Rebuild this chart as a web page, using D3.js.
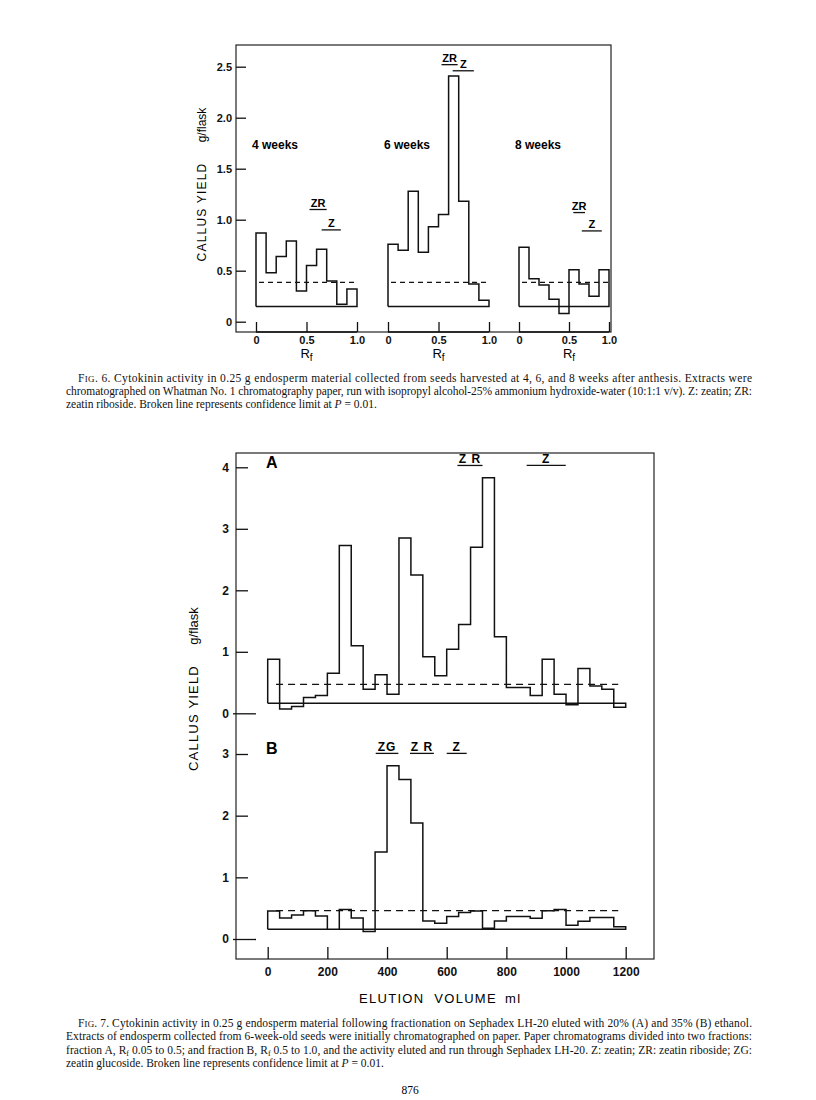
<!DOCTYPE html>
<html>
<head>
<meta charset="utf-8">
<script src="https://cdn.jsdelivr.net/npm/d3@7"></script>
<style>
  html, body { margin: 0; padding: 0; background: #fff; }
  svg { display: block; }
</style>
</head>
<body>
<svg id="chart"></svg>
<script>
// ---- Fig. 6 data (Rf histograms) ----
const weekLabels = ['4 weeks', '6 weeks', '8 weeks'];
const rfEdges = [0, 0.1, 0.2, 0.3, 0.4, 0.5, 0.6, 0.7, 0.8, 0.9, 1.0];
const rfEdges8 = [0, 0.1, 0.2, 0.3, 0.4, 0.5, 0.625, 0.75, 0.875, 1.0];
const yield4wk = [0.87, 0.48, 0.64, 0.79, 0.30, 0.55, 0.71, 0.40, 0.17, 0.32];
const yield6wk = [0.76, 0.70, 1.28, 0.68, 0.93, 1.05, 2.41, 1.18, 0.37, 0.21];
const yield8wk = [0.73, 0.42, 0.36, 0.22, 0.08, 0.51, 0.37, 0.25, 0.51];
const base6 = 0.15;
const limit6 = 0.385;
const rfTicks = [0, 0.5, 1.0];
const yTicks6 = [0, 0.5, 1.0, 1.5, 2.0, 2.5];
// marker labels: [panel, text, rf from, rf to, y value]
const markers6 = [
    [0, 'ZR', 0.53, 0.70, 1.10], [0, 'Z', 0.65, 0.84, 0.90],
    [1, 'ZR', 0.53, 0.69, 2.52], [1, 'Z', 0.64, 0.85, 2.46],
    [2, 'ZR', 0.554, 0.70, 1.07], [2, 'Z', 0.66, 0.91, 0.89]
];

// ---- Fig. 7 data (elution, 40 ml fractions) ----
const fractionWidth = 40;
const yieldA = [0.88, 0.07, 0.11, 0.255, 0.29, 0.65, 2.73, 1.10, 0.39, 0.625,
    0.31, 2.85, 2.25, 0.92, 0.61, 1.04, 1.445, 2.70, 3.83, 1.245,
    0.42, 0.42, 0.29, 0.88, 0.31, 0.14, 0.73, 0.445, 0.39, 0.10];
const yieldB = [0.455, 0.34, 0.39, 0.46, 0.374, 0.157, 0.48, 0.34, 0.12, 1.41,
    2.81, 2.585, 1.88, 0.29, 0.255, 0.363, 0.428, 0.455, 0.173, 0.29,
    0.363, 0.363, 0.336, 0.46, 0.48, 0.222, 0.287, 0.347, 0.347, 0.20];
const baseA = 0.163, baseB = 0.157;
const limitA = 0.47, limitB = 0.46;
const limitRange7 = [28, 1175];
const volumeTicks = [0, 200, 400, 600, 800, 1000, 1200];
const markersA = [['Z R', 636, 720, 4.03], ['Z', 868, 999, 4.03]];
const markersB = [['ZG', 362, 438, 3.01], ['Z R', 477, 557, 3.01], ['Z', 600, 667, 3.01]];

const caption6 = [
    { x: 78, justify: true, parts: [['F', ''], ['IG', 'sc'], ['. 6. Cytokinin activity in 0.25 g endosperm material collected from seeds harvested at 4, 6, and 8 weeks after anthesis. Extracts were', '']] },
    { x: 66, justify: true, parts: [['chromatographed on Whatman No. 1 chromatography paper, run with isopropyl alcohol-25% ammonium hydroxide-water (10:1:1 v/v). Z: zeatin; ZR:', '']] },
    { x: 66, justify: false, parts: [['zeatin riboside. Broken line represents confidence limit at ', ''], ['P', 'i'], [' = 0.01.', '']] }
];
const caption7 = [
    { x: 78, justify: true, parts: [['F', ''], ['IG', 'sc'], ['. 7. Cytokinin activity in 0.25 g endosperm material following fractionation on Sephadex LH-20 eluted with 20% (A) and 35% (B) ethanol.', '']] },
    { x: 66, justify: true, parts: [['Extracts of endosperm collected from 6-week-old seeds were initially chromatographed on paper. Paper chromatograms divided into two fractions:', '']] },
    { x: 66, justify: true, parts: [['fraction A, R', ''], ['f', 'sub'], [' 0.05 to 0.5; and fraction B, R', ''], ['f', 'sub'], [' 0.5 to 1.0, and the activity eluted and run through Sephadex LH-20. Z: zeatin; ZR: zeatin riboside; ZG:', '']] },
    { x: 66, justify: false, parts: [['zeatin glucoside. Broken line represents confidence limit at ', ''], ['P', 'i'], [' = 0.01.', '']] }
];

const W = 816, H = 1100;
const svg = d3.select('#chart').attr('width', W).attr('height', H);

const sans = '"Liberation Sans", Arial, sans-serif';
const serif = '"Liberation Serif", "Times New Roman", serif';

// step outline closed on a baseline
const histPath = (edges, values, base, x, y) => {
    const pts = [[edges[0], base]];
    values.forEach((v, i) => pts.push([edges[i], v]));
    pts.push([edges[edges.length - 1], values[values.length - 1]]);
    pts.push([edges[edges.length - 1], base]);
    pts.push([edges[0], base]);
    return d3.line().x(d => x(d[0])).y(d => y(d[1])).curve(d3.curveStepAfter)(pts);
};

const drawMarker = (g, text, x0, x1, yy, size, spacing) => {
    g.append('line')
        .attr('x1', x0).attr('x2', x1).attr('y1', yy).attr('y2', yy)
        .attr('stroke', '#111').attr('stroke-width', 1.3);
    g.append('text')
        .attr('x', (x0 + x1) / 2).attr('y', yy - 2.5)
        .attr('text-anchor', 'middle')
        .style('font-family', sans).style('font-size', size + 'px')
        .style('font-weight', 'bold').style('letter-spacing', spacing + 'px')
        .text(text);
};

const yLabel = (x, yCallus, yFlask, size) => {
    svg.append('text')
        .attr('transform', `translate(${x},${yCallus}) rotate(-90)`)
        .attr('text-anchor', 'middle')
        .style('font-family', sans).style('font-size', size + 'px')
        .style('letter-spacing', '1.2px')
        .text('CALLUS YIELD');
    svg.append('text')
        .attr('transform', `translate(${x},${yFlask}) rotate(-90)`)
        .attr('text-anchor', 'middle')
        .style('font-family', sans).style('font-size', size + 'px')
        .text('g/flask');
};

const styleAxis = (g, size) => {
    g.select('.domain').remove();
    g.selectAll('line').attr('stroke', '#111').attr('stroke-width', 1.3);
    g.selectAll('text')
        .style('font-family', sans).style('font-size', size + 'px')
        .style('font-weight', 'bold').attr('fill', '#111');
};

// ================= Fig. 6 =================
const f6 = { left: 236, top: 45, right: 611, bottom: 332 };
svg.append('rect')
    .attr('x', f6.left).attr('y', f6.top)
    .attr('width', f6.right - f6.left).attr('height', f6.bottom - f6.top)
    .attr('fill', 'none').attr('stroke', '#222').attr('stroke-width', 1.2);

const y6 = d3.scaleLinear().domain([0, 2.5]).range([321.7, 66.7]);
const gy6 = svg.append('g').attr('transform', `translate(${f6.left},0)`)
    .call(d3.axisLeft(y6).tickValues(yTicks6).tickSizeInner(-10).tickSizeOuter(0).tickPadding(4)
        .tickFormat(d => d === 0 ? '0' : d3.format('.1f')(d)));
styleAxis(gy6, 11);

const panels6 = [
    { x: d3.scaleLinear().domain([0, 1]).range([256, 357]), edges: rfEdges, vals: yield4wk },
    { x: d3.scaleLinear().domain([0, 1]).range([388, 489]), edges: rfEdges, vals: yield6wk },
    { x: d3.scaleLinear().domain([0, 0.5, 1]).range([519, 569, 609]), edges: rfEdges8, vals: yield8wk }
];

panels6.forEach((p, i) => {
    const g = svg.append('g');
    g.append('path')
        .attr('d', histPath(p.edges, p.vals, base6, p.x, y6))
        .attr('fill', 'none').attr('stroke', '#111').attr('stroke-width', 1.5);
    g.append('line')
        .attr('x1', p.x(0.03)).attr('x2', p.x(1.0))
        .attr('y1', y6(limit6)).attr('y2', y6(limit6))
        .attr('stroke', '#111').attr('stroke-width', 1.2).attr('stroke-dasharray', '5,4');
    const gx = svg.append('g').attr('transform', `translate(0,${f6.bottom})`)
        .call(d3.axisBottom(p.x).tickValues(rfTicks).tickSizeInner(-10).tickSizeOuter(0).tickPadding(4)
            .tickFormat(d => d === 0 ? '0' : d3.format('.1f')(d)));
    styleAxis(gx, 11);
    // panel axis base line
    svg.append('line')
        .attr('x1', p.x(0)).attr('x2', p.x(1)).attr('y1', f6.bottom).attr('y2', f6.bottom)
        .attr('stroke', '#111').attr('stroke-width', 1.3);
    const rf = svg.append('text')
        .attr('x', p.x(0.5)).attr('y', 358)
        .attr('text-anchor', 'middle')
        .style('font-family', sans).style('font-size', '13px');
    rf.append('tspan').text('R');
    rf.append('tspan').attr('dy', 3).style('font-size', '10px').text('f');
    svg.append('text')
        .attr('x', p.x(0) - 4).attr('y', 149)
        .style('font-family', sans).style('font-size', '12px').style('font-weight', 'bold')
        .text(weekLabels[i]);
});

markers6.forEach(([pi, t, a, b, v]) => {
    const p = panels6[pi];
    drawMarker(svg, t, p.x(a), p.x(b), y6(v), 11, 0);
});

yLabel(206, 212, 125, 12);

// ================= Fig. 7 =================
const f7 = { left: 236, top: 453, right: 654, bottom: 959 };
svg.append('rect')
    .attr('x', f7.left).attr('y', f7.top)
    .attr('width', f7.right - f7.left).attr('height', f7.bottom - f7.top)
    .attr('fill', 'none').attr('stroke', '#222').attr('stroke-width', 1.2);

const x7 = d3.scaleLinear().domain([0, 1200]).range([267.7, 625.7]);
const yA = d3.scaleLinear().domain([0, 4]).range([713.3, 467.3]);
const yB = d3.scaleLinear().domain([0, 3]).range([939, 754]);
const edges7 = d3.range(yieldA.length + 1).map(i => i * fractionWidth);

[[yA, yieldA, baseA, limitA, markersA, 'A', 462], [yB, yieldB, baseB, limitB, markersB, 'B', 748]]
    .forEach(([yy, vals, base, lim, marks, name, ty]) => {
        const gy = svg.append('g').attr('transform', `translate(${f7.left},0)`)
            .call(d3.axisLeft(yy).ticks(yy.domain()[1]).tickSizeInner(-12).tickSizeOuter(0).tickPadding(7)
                .tickFormat(d3.format('d')));
        styleAxis(gy, 12);
        gy.selectAll('.tick').filter(d => d === 0).select('line')
            .attr('x1', -3).attr('x2', 20);
        svg.append('path')
            .attr('d', histPath(edges7, vals, base, x7, yy))
            .attr('fill', 'none').attr('stroke', '#111').attr('stroke-width', 1.5);
        svg.append('line')
            .attr('x1', x7(limitRange7[0])).attr('x2', x7(limitRange7[1]))
            .attr('y1', yy(lim)).attr('y2', yy(lim))
            .attr('stroke', '#111').attr('stroke-width', 1.2).attr('stroke-dasharray', '7,5');
        marks.forEach(([t, a, b, v]) => drawMarker(svg, t, x7(a), x7(b), yy(v), 12, 1));
        svg.append('text')
            .attr('x', 266).attr('y', ty)
            .attr('dy', '0.35em')
            .style('font-family', sans).style('font-size', '16px').style('font-weight', 'bold')
            .text(name);
    });

const gx7 = svg.append('g').attr('transform', `translate(0,${f7.bottom})`)
    .call(d3.axisBottom(x7).tickValues(volumeTicks).tickSizeInner(-12).tickSizeOuter(0).tickPadding(8)
        .tickFormat(d3.format('d')));
styleAxis(gx7, 12);

svg.append('text')
    .attr('x', 359).attr('y', 1003)
    .style('font-family', sans).style('font-size', '13px').style('letter-spacing', '1.3px')
    .attr('xml:space', 'preserve')
    .text('ELUTION  VOLUME');
svg.append('text')
    .attr('x', 505).attr('y', 1003)
    .style('font-family', sans).style('font-size', '13px').style('letter-spacing', '1.5px')
    .text('ml');

yLabel(198, 718, 626, 13);

// ================= captions =================
const drawCaption = (lines, y0, lh) => {
    lines.forEach((ln, i) => {
        const t = svg.append('text')
            .attr('x', ln.x).attr('y', y0 + i * lh)
            .attr('xml:space', 'preserve')
            .style('font-family', serif).style('font-size', '11.5px').attr('fill', '#111');
        if (ln.justify) t.attr('textLength', 752 - ln.x).attr('lengthAdjust', 'spacing');
        let sub = false;
        ln.parts.forEach(([s, k]) => {
            const sp = t.append('tspan').text(s);
            if (k === 'sc') sp.style('font-size', '9px');
            if (k === 'i') sp.style('font-style', 'italic');
            if (k === 'sub') {
                sp.style('font-size', '8px').attr('dy', 2);
                sub = true;
            } else if (sub) {
                sp.attr('dy', -2);
                sub = false;
            }
        });
    });
};
drawCaption(caption6, 382, 13);
drawCaption(caption7, 1027, 13.3);

svg.append('text')
    .attr('x', 410).attr('y', 1094).attr('text-anchor', 'middle')
    .style('font-family', serif).style('font-size', '11.5px')
    .text('876');
</script>
</body>
</html>
